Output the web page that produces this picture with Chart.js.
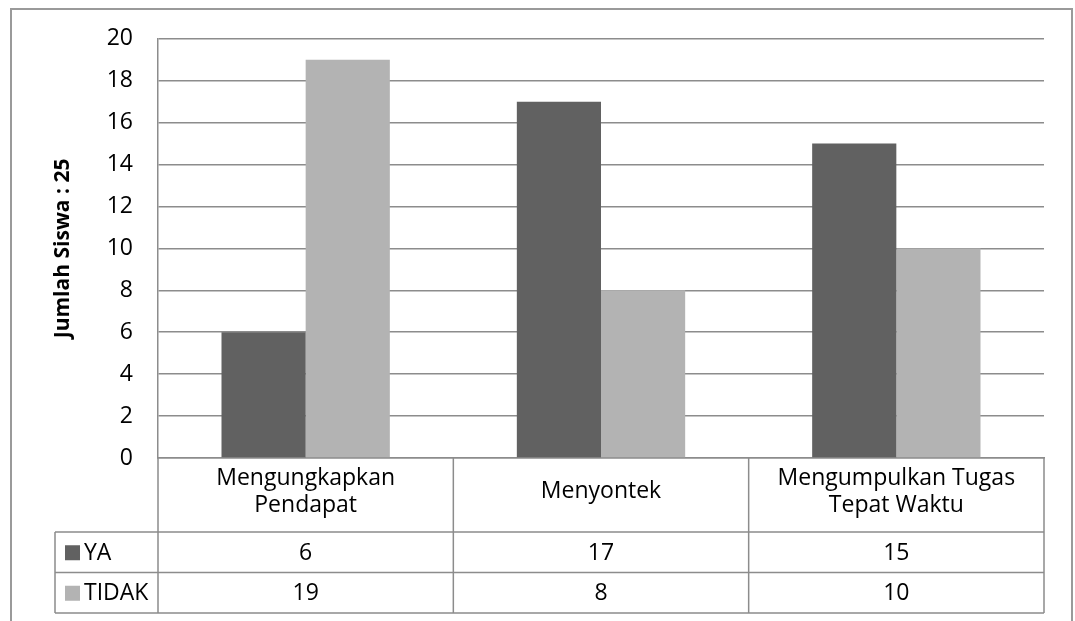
<!DOCTYPE html>
<html>
<head>
<meta charset="utf-8">
<script src="https://cdn.jsdelivr.net/npm/chart.js@4.4.0/dist/chart.umd.min.js"></script>
<style>
  html, body { margin:0; padding:0; background:#fff; }
  #wrap { position:relative; width:1075px; height:621px; overflow:hidden; }
  #frame { position:absolute; left:10px; top:8px; width:1063px; height:660px; border:2px solid #9a9a9a; box-sizing:border-box; }
  #chart { position:absolute; left:0; top:0; }
</style>
</head>
<body>
<div id="wrap">
  <div id="frame"></div>
  <canvas id="chart" width="1075" height="621"></canvas>
</div>
<script>
const categories = [['Mengungkapkan', 'Pendapat'], ['Menyontek'], ['Mengumpulkan Tugas', 'Tepat Waktu']];
const seriesNames = ['YA', 'TIDAK'];
const yaValues = [6, 17, 15];
const tidakValues = [19, 8, 10];
const seriesColors = ['#616161', '#b3b3b3'];
const yTitle = 'Jumlah Siswa : 25';

const FONT = "'Open Sans', sans-serif";
const LINE = '#8c8c8c';

// data table under the x axis (Excel style)
const tablePlugin = {
  id: 'dataTable',
  afterDraw(chart){
    const ctx = chart.ctx;
    const x = chart.scales.x;
    const top = chart.chartArea.bottom;
    const headBottom = 532, rowH = 40.5;
    const tableLeft = 55;
    const bottom = headBottom + rowH * 2;
    const colW = x.width / categories.length;
    const rows = [yaValues, tidakValues];

    ctx.save();
    ctx.strokeStyle = LINE;
    ctx.lineWidth = 1.5;
    ctx.beginPath();
    // horizontal lines
    for (let r = 0; r <= 2; r++) {
      const y = headBottom + r * rowH;
      ctx.moveTo(tableLeft, y); ctx.lineTo(x.right, y);
    }
    // verticals
    for (let i = 0; i <= categories.length; i++) {
      const xx = x.left + i * colW;
      ctx.moveTo(xx, top); ctx.lineTo(xx, bottom);
    }
    ctx.moveTo(tableLeft, headBottom); ctx.lineTo(tableLeft, bottom);
    ctx.stroke();

    ctx.font = '23px ' + FONT;
    ctx.textBaseline = 'middle';
    rows.forEach((vals, r) => {
      const cy = headBottom + rowH * (r + 0.5);
      ctx.textAlign = 'center';
      ctx.fillStyle = '#000';
      vals.forEach((v, i) => ctx.fillText(String(v), x.getPixelForValue(i), cy + 1));
      // legend key + series name
      ctx.fillStyle = seriesColors[r];
      ctx.fillRect(65, cy - 7, 15, 15);
      ctx.fillStyle = '#000';
      ctx.textAlign = 'left';
      ctx.fillText(seriesNames[r], 84, cy + 1);
    });
    ctx.restore();
  }
};

new Chart(document.getElementById('chart'), {
  type: 'bar',
  data: {
    labels: categories,
    datasets: [
      { label: seriesNames[0], data: yaValues, backgroundColor: seriesColors[0], borderWidth: 0 },
      { label: seriesNames[1], data: tidakValues, backgroundColor: seriesColors[1], borderWidth: 0 }
    ]
  },
  options: {
    responsive: false,
    animation: false,
    layout: { padding: { left: 0, right: 31, top: 38, bottom: 0 } },
    datasets: { bar: { categoryPercentage: 0.57, barPercentage: 1.0 } },
    plugins: { legend: { display: false }, tooltip: { enabled: false } },
    scales: {
      x: {
        grid: { display: false, drawTicks: false },
        border: { display: true, color: LINE, width: 1.5 },
        ticks: { color: '#000', font: { family: FONT, size: 23 }, padding: 20,
                 maxRotation: 0, autoSkip: false, crossAlign: 'center' },
        afterFit(s){ s.height = 163; }
      },
      y: {
        min: 0, max: 20,
        grid: { color: LINE, lineWidth: 1.5, drawTicks: false },
        border: { display: true, color: LINE, width: 1.5 },
        ticks: { stepSize: 2, color: '#000', font: { family: FONT, size: 23 }, padding: 25 },
        title: { display: true, text: yTitle, color: '#000',
                 font: { family: FONT, size: 21, weight: 'bold' }, padding: { top: 50, bottom: 0 } },
        afterFit(s){ s.width = 158; }
      }
    }
  },
  plugins: [tablePlugin]
});
</script>
</body>
</html>
